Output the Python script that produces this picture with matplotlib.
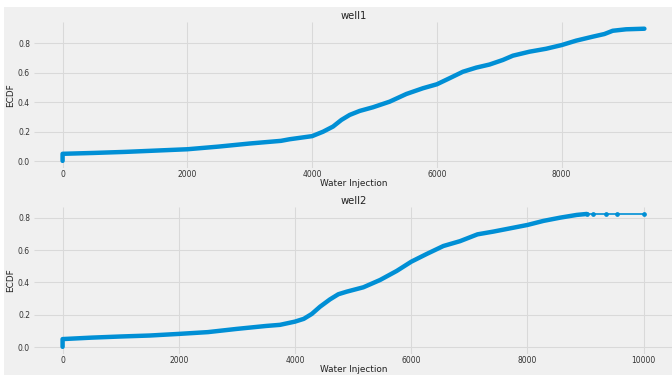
import matplotlib
matplotlib.use("Agg")
import matplotlib.pyplot as plt
from matplotlib.patches import Rectangle

plt.style.use("fivethirtyeight")

# ECDF of water injection per well (injection value, cumulative fraction)
well1_injection = [0, 0, 500, 1000, 1500, 2000, 2500, 3000, 3500, 3641, 4000,
                   4175, 4335, 4469, 4602, 4762, 4976, 5243, 5510, 5776, 6000,
                   6203, 6417, 6631, 6844, 7058, 7218, 7484, 7751, 8000, 8232,
                   8498, 8685, 8818, 9032, 9326]
well1_ecdf = [0.002, 0.05, 0.056, 0.063, 0.072, 0.081, 0.099, 0.120, 0.138,
              0.149, 0.170, 0.200, 0.235, 0.280, 0.314, 0.341, 0.366, 0.404,
              0.456, 0.495, 0.522, 0.563, 0.607, 0.635, 0.656, 0.687, 0.716,
              0.743, 0.763, 0.788, 0.818, 0.845, 0.863, 0.885, 0.895, 0.899]

well2_injection = [0, 0, 500, 1000, 1500, 2000, 2500, 3000, 3500, 3742, 4000,
                   4150, 4287, 4430, 4600, 4745, 4890, 5176, 5463, 5750, 6000,
                   6267, 6553, 6840, 7140, 7413, 7700, 8000, 8274, 8561, 8848,
                   9021]
well2_ecdf = [0.002, 0.05, 0.059, 0.066, 0.072, 0.082, 0.093, 0.113, 0.131,
              0.138, 0.158, 0.175, 0.205, 0.250, 0.295, 0.327, 0.343, 0.370,
              0.415, 0.471, 0.528, 0.576, 0.625, 0.655, 0.697, 0.714, 0.734,
              0.755, 0.780, 0.800, 0.817, 0.823]

# sparse high-injection observations at the end of well2
well2_tail_injection = [9021, 9134, 9348, 9542, 10012]
well2_tail_ecdf = [0.823, 0.823, 0.823, 0.823, 0.823]

titles = ["well1", "well2"]
xlabel = "Water Injection"
ylabel = "ECDF"
color = "#008fd5"

W, H = 672, 375
fig = plt.figure(figsize=(W / 100, H / 100), dpi=100)
fig.patch.set_facecolor("white")
fig.add_artist(Rectangle((4 / W, 0), 1, 1 - 7 / H, transform=fig.transFigure,
                         facecolor="#f0f0f0", edgecolor="none", zorder=-10))

left = 33.5 / W
width = 640 / W
ax1 = fig.add_axes([left, 1 - 167.5 / H, width, 145.4 / H])
ax2 = fig.add_axes([left, 1 - 353.5 / H, width, 146.2 / H])

ax1.plot(well1_injection, well1_ecdf, color=color, lw=3.2,
         solid_capstyle="round", solid_joinstyle="round")
ax2.plot(well2_injection, well2_ecdf, color=color, lw=3.2,
         solid_capstyle="round", solid_joinstyle="round")
ax2.plot(well2_tail_injection, well2_tail_ecdf, color=color, lw=1.2,
         marker="o", ms=2.4)

for ax, title in zip([ax1, ax2], titles):
    ax.set_title(title, fontsize=7.2, pad=2.5, color="#222222")
    ax.set_xlabel(xlabel, fontsize=6.4, labelpad=0, color="#222222")
    ax.set_ylabel(ylabel, fontsize=6.4, labelpad=2, color="#222222")
    ax.tick_params(axis="y", labelsize=5.5, pad=2.5, length=0,
                   labelcolor="#333333")
    ax.tick_params(axis="x", labelsize=5.5, pad=1.5, length=0,
                   labelcolor="#333333")
    ax.grid(True, color="#d9d9d9", linewidth=0.75)
    for s in ax.spines.values():
        s.set_visible(False)

ax1.set_yticks([0.0, 0.2, 0.4, 0.6, 0.8])
ax2.set_yticks([0.0, 0.2, 0.4, 0.6, 0.8])
ax1.set_xticks([0, 2000, 4000, 6000, 8000])
ax2.set_xticks([0, 2000, 4000, 6000, 8000, 10000])

fig.savefig("out.png", dpi=100, facecolor="white")
